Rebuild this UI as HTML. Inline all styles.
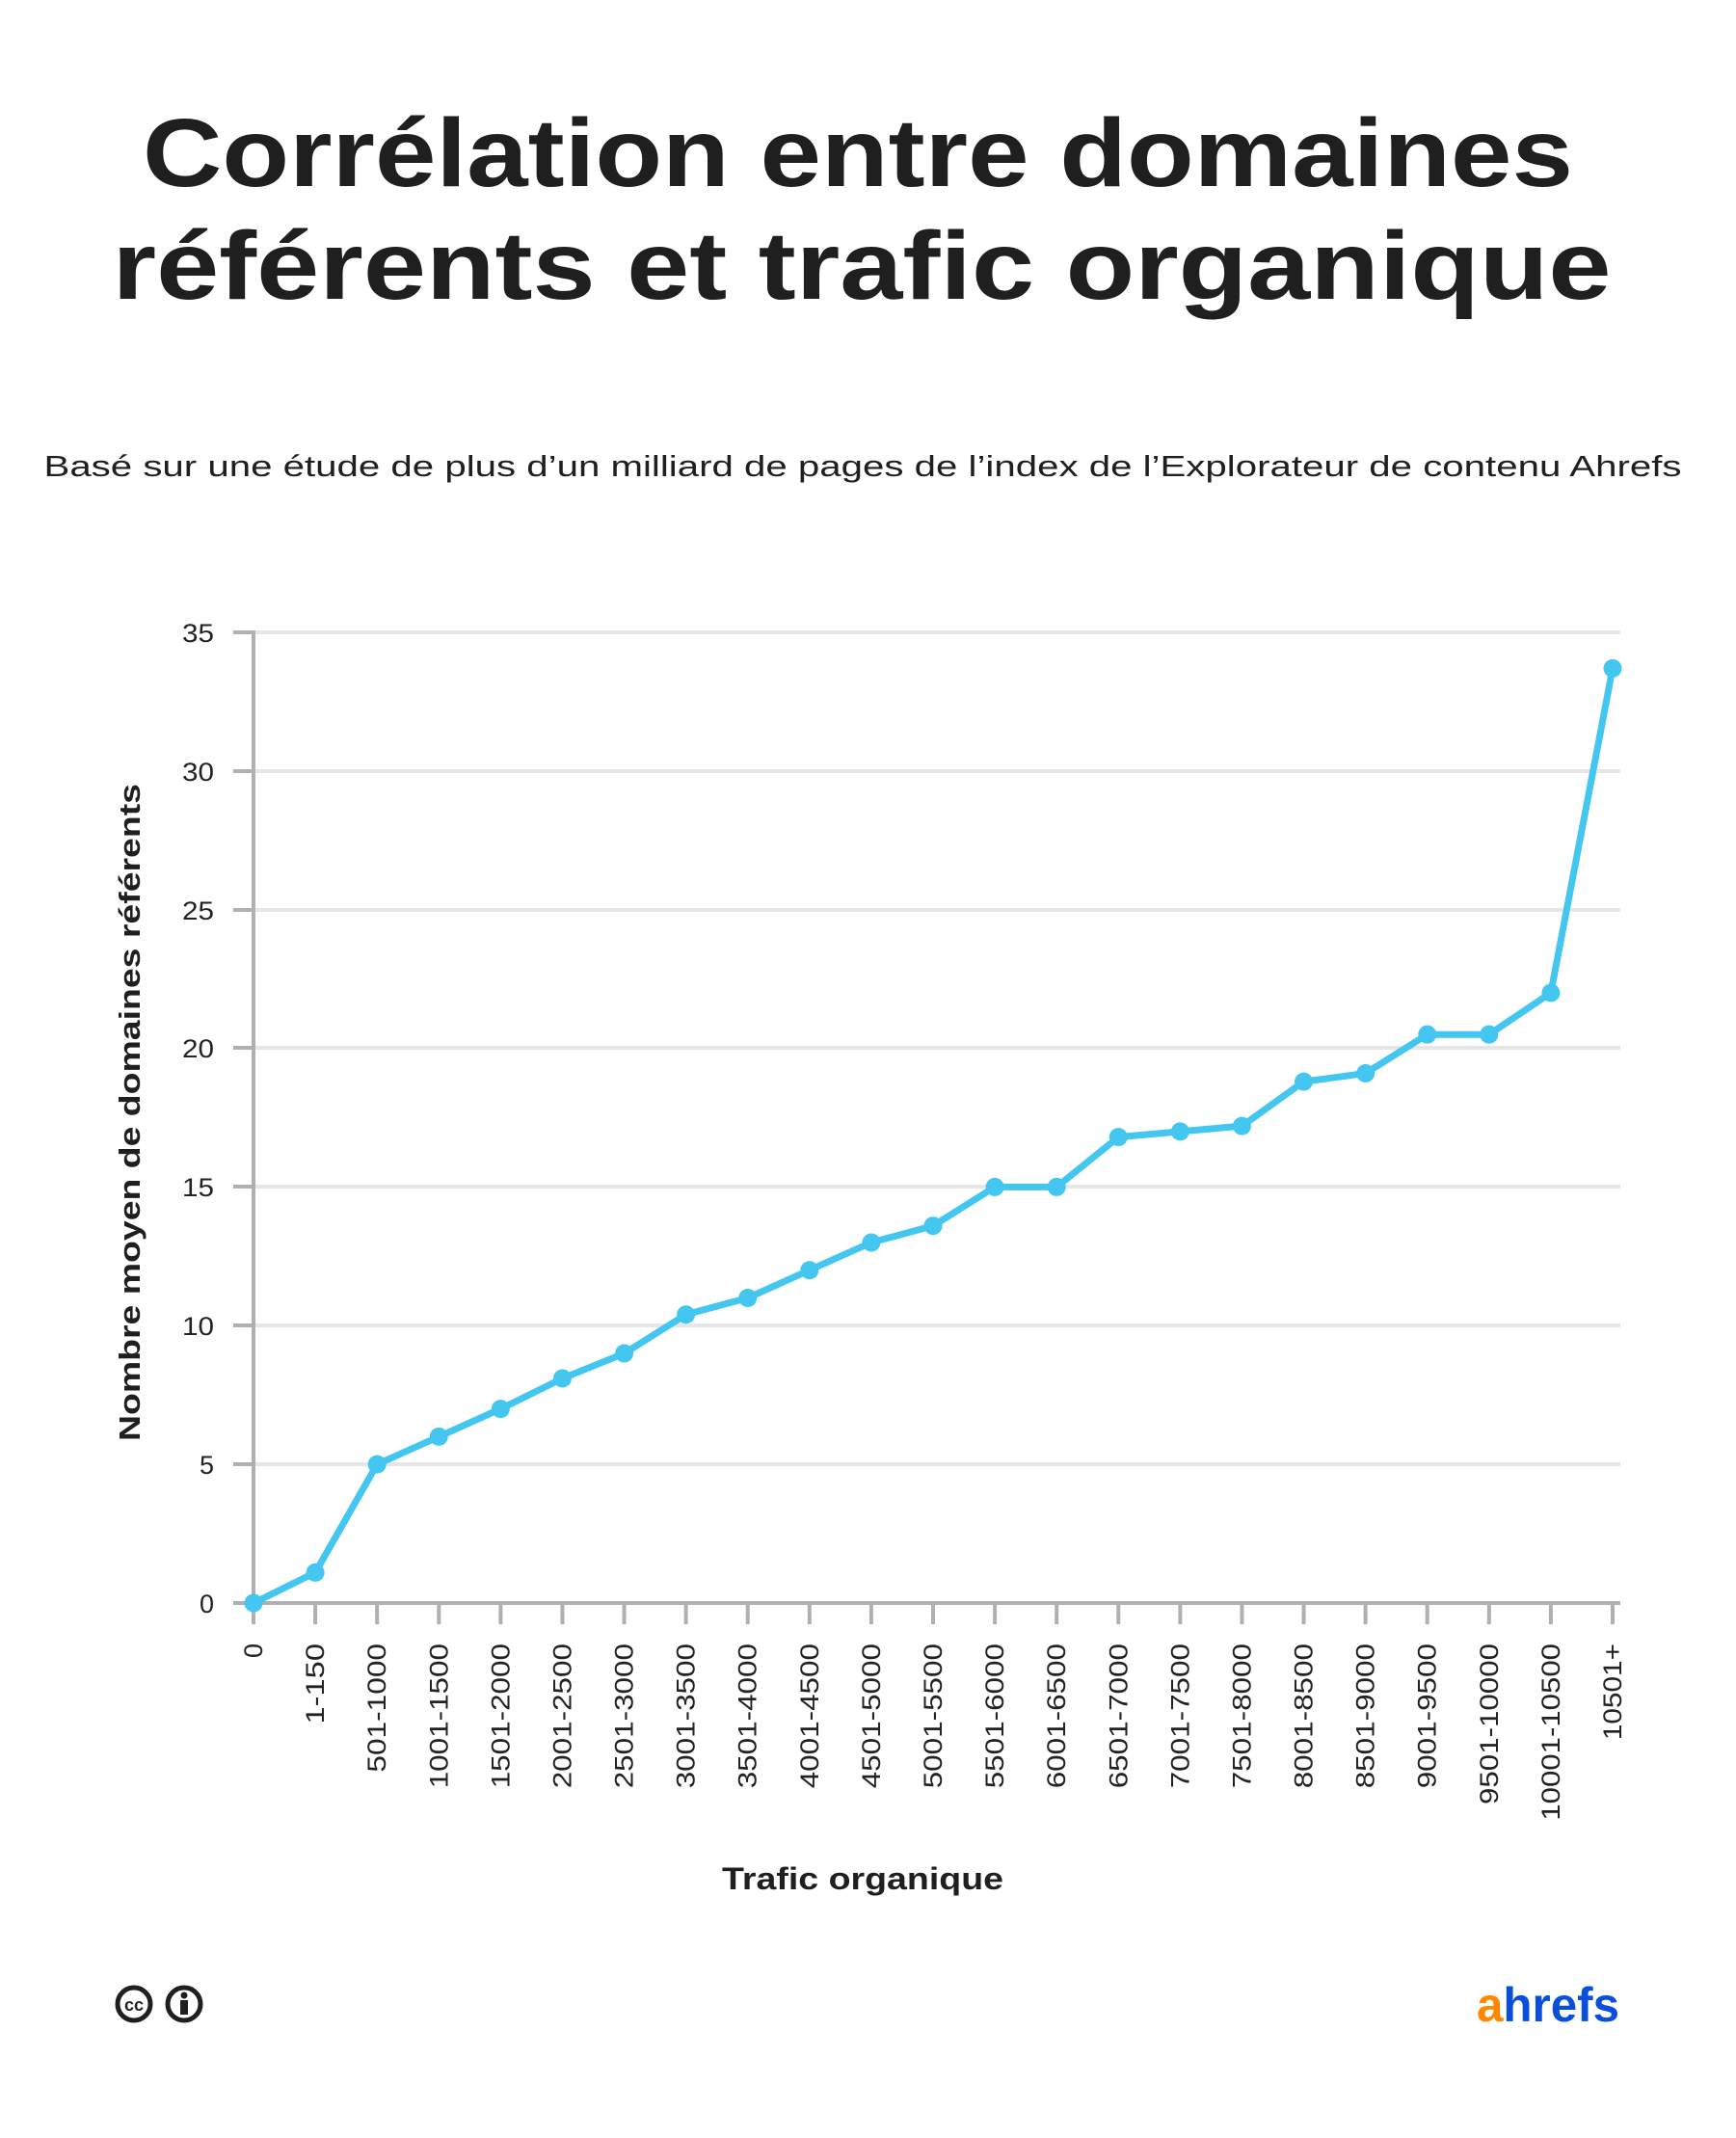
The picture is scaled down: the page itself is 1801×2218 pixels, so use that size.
<!DOCTYPE html>
<html><head><meta charset="utf-8"><style>html,body{margin:0;padding:0;background:#fff}svg{display:block}</style></head>
<body>
<svg width="1801" height="2218" viewBox="0 0 1801 2218" xmlns="http://www.w3.org/2000/svg" font-family="Liberation Sans, sans-serif">
<text x="890" y="193" text-anchor="middle" font-size="100" font-weight="bold" fill="#1f1f1f" textLength="1484" lengthAdjust="spacingAndGlyphs">Corrélation entre domaines</text>
<text x="894" y="310" text-anchor="middle" font-size="100" font-weight="bold" fill="#1f1f1f" textLength="1555" lengthAdjust="spacingAndGlyphs">référents et trafic organique</text>
<text x="895" y="494" text-anchor="middle" font-size="31" fill="#1f1f1f" textLength="1699" lengthAdjust="spacingAndGlyphs">Basé sur une étude de plus d’un milliard de pages de l’index de l’Explorateur de contenu Ahrefs</text>
<g stroke="#e6e6e6" stroke-width="4">
<line x1="263" x2="1681" y1="656" y2="656"/><line x1="263" x2="1681" y1="800" y2="800"/><line x1="263" x2="1681" y1="944" y2="944"/><line x1="263" x2="1681" y1="1087" y2="1087"/><line x1="263" x2="1681" y1="1231" y2="1231"/><line x1="263" x2="1681" y1="1375" y2="1375"/><line x1="263" x2="1681" y1="1519" y2="1519"/>
</g>
<g stroke="#b0b0b0" stroke-width="4">
<line x1="263" x2="263" y1="654" y2="1685"/>
<line x1="242" x2="1681" y1="1663" y2="1663"/>
<line x1="242" x2="263" y1="656" y2="656"/><line x1="242" x2="263" y1="800" y2="800"/><line x1="242" x2="263" y1="944" y2="944"/><line x1="242" x2="263" y1="1087" y2="1087"/><line x1="242" x2="263" y1="1231" y2="1231"/><line x1="242" x2="263" y1="1375" y2="1375"/><line x1="242" x2="263" y1="1519" y2="1519"/>
</g>
<g id="xt" stroke="#b0b0b0" stroke-width="4"></g>
<g font-size="27" fill="#222" text-anchor="end">
<text x="222" y="666" textLength="33" lengthAdjust="spacingAndGlyphs">35</text><text x="222" y="810" textLength="33" lengthAdjust="spacingAndGlyphs">30</text><text x="222" y="954" textLength="33" lengthAdjust="spacingAndGlyphs">25</text><text x="222" y="1097" textLength="33" lengthAdjust="spacingAndGlyphs">20</text><text x="222" y="1241" textLength="33" lengthAdjust="spacingAndGlyphs">15</text><text x="222" y="1385" textLength="33" lengthAdjust="spacingAndGlyphs">10</text><text x="222" y="1529">5</text><text x="222" y="1673">0</text>
</g>
<g id="xl" font-size="27" fill="#222" text-anchor="end"></g>
<polyline id="ln" fill="none" stroke="#43c6f0" stroke-width="7" stroke-linejoin="round" points=""/>
<g id="pts" fill="#43c6f0"></g>
<text transform="translate(145,1154) rotate(-90)" text-anchor="middle" font-size="31" font-weight="bold" fill="#1f1f1f" textLength="682" lengthAdjust="spacingAndGlyphs">Nombre moyen de domaines référents</text>
<text x="895" y="1960" text-anchor="middle" font-size="32" font-weight="bold" fill="#1f1f1f" textLength="292" lengthAdjust="spacingAndGlyphs">Trafic organique</text>
<g stroke="#1f1f1f" stroke-width="5" fill="none"><circle cx="139" cy="2079" r="17"/><circle cx="191" cy="2079" r="17"/></g>
<text x="139" y="2086" text-anchor="middle" font-size="18" font-weight="bold" fill="#1f1f1f">cc</text>
<circle cx="191" cy="2070" r="3.5" fill="#1f1f1f"/><rect x="187" y="2075" width="8" height="15" fill="#1f1f1f"/>
<text x="1532" y="2097" font-size="50" font-weight="bold" textLength="148" lengthAdjust="spacingAndGlyphs"><tspan fill="#ff8800">a</tspan><tspan fill="#0a4fdc">hrefs</tspan></text>
</svg>
<script>
var labels=["0","1-150","501-1000","1001-1500","1501-2000","2001-2500","2501-3000","3001-3500","3501-4000","4001-4500","4501-5000","5001-5500","5501-6000","6001-6500","6501-7000","7001-7500","7501-8000","8001-8500","8501-9000","9001-9500","9501-10000","10001-10500","10501+"];
var vals=[0,1.1,5,6,7,8.1,9,10.4,11,12,13,13.6,15,15,16.8,17,17.2,18.8,19.1,20.5,20.5,22,33.7];
var NS="http://www.w3.org/2000/svg",pts=[],xt=document.getElementById("xt"),xl=document.getElementById("xl"),pg=document.getElementById("pts");
for(var i=0;i<23;i++){var x=263+i*(1410/22),y=1663-vals[i]*(1007/35);pts.push(x.toFixed(1)+","+y.toFixed(1));
var l=document.createElementNS(NS,"line");l.setAttribute("x1",x);l.setAttribute("x2",x);l.setAttribute("y1",1663);l.setAttribute("y2",1685);xt.appendChild(l);
var t=document.createElementNS(NS,"text");t.setAttribute("transform","translate("+(x+9)+",1705) rotate(-90)");
if(labels[i].length>1){t.setAttribute("textLength",(labels[i].length*16.7).toFixed(1));t.setAttribute("lengthAdjust","spacingAndGlyphs");}
t.textContent=labels[i];xl.appendChild(t);
var c=document.createElementNS(NS,"circle");c.setAttribute("cx",x);c.setAttribute("cy",y);c.setAttribute("r",9.5);pg.appendChild(c);}
document.getElementById("ln").setAttribute("points",pts.join(" "));
</script>
</body></html>
